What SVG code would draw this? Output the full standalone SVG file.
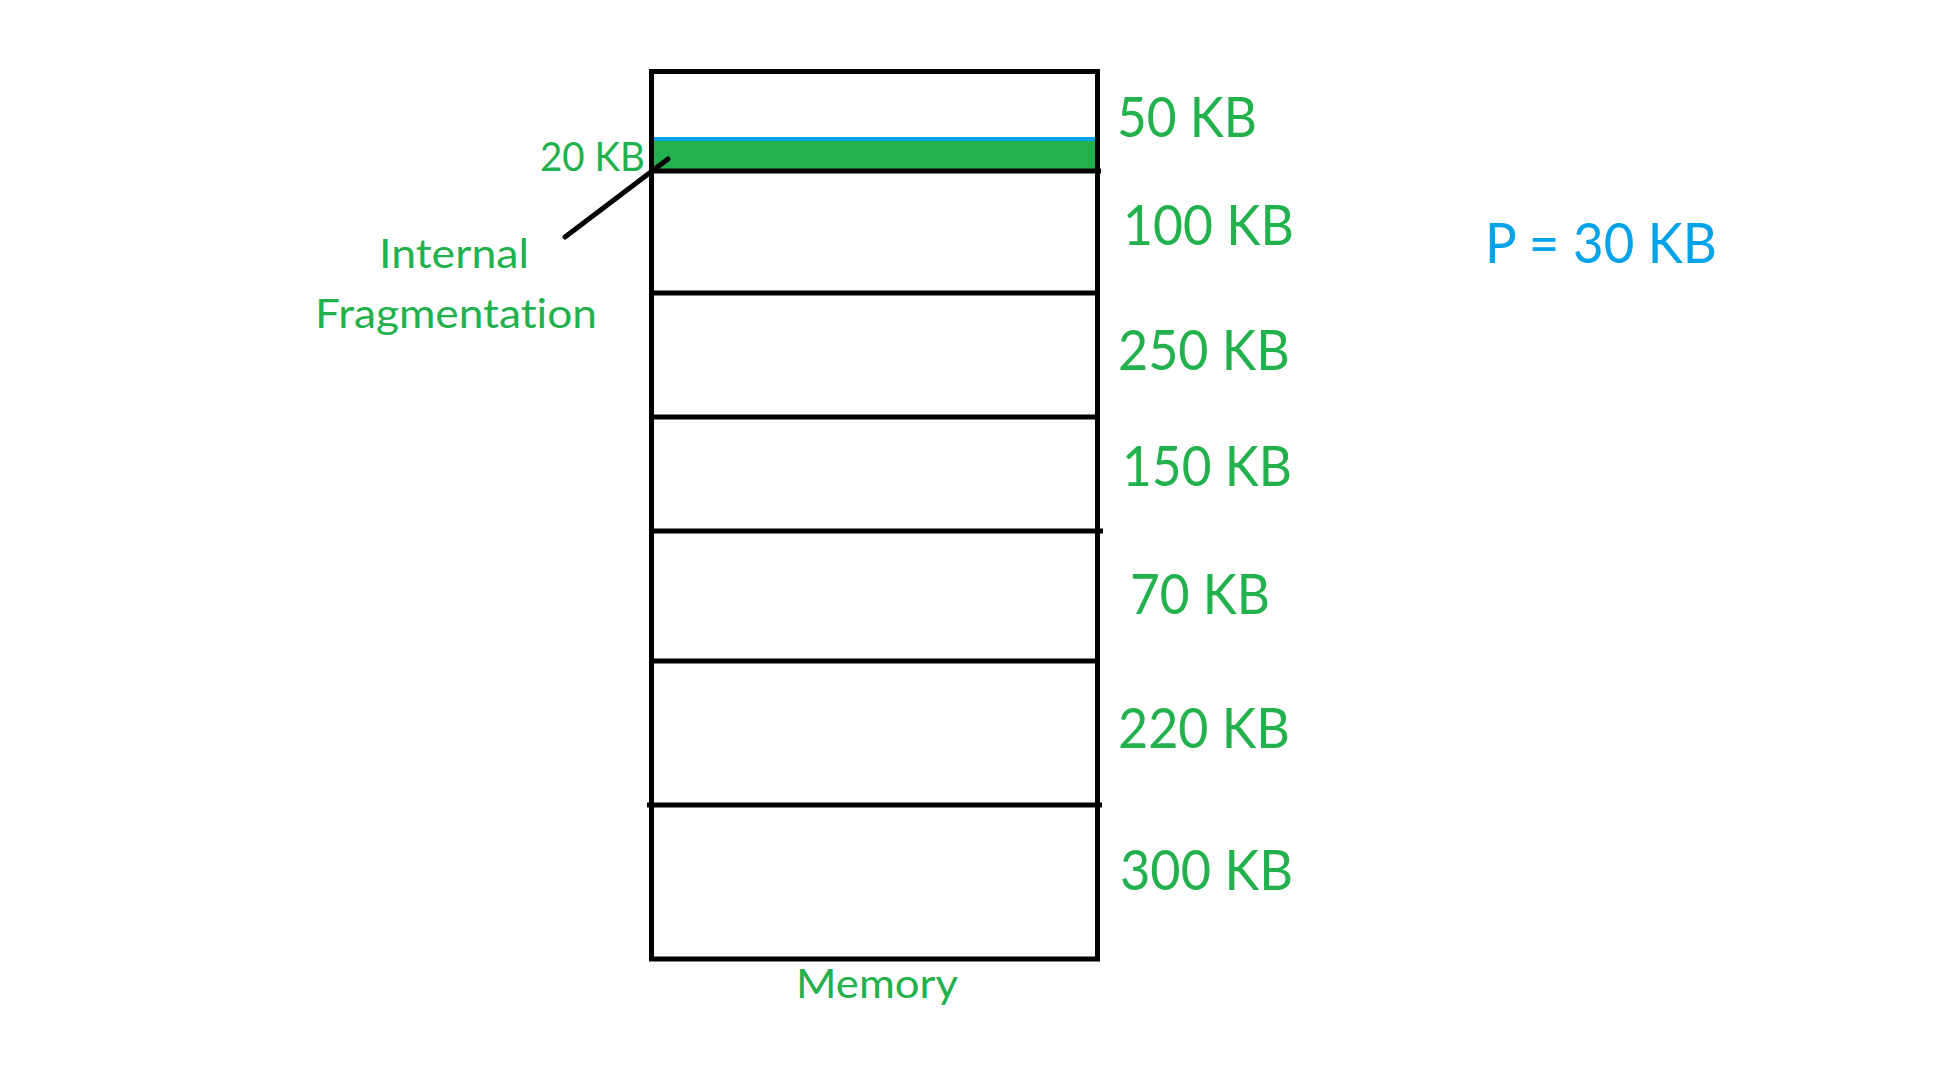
<svg xmlns="http://www.w3.org/2000/svg" width="1952" height="1070" viewBox="0 0 1952 1070">
<style>
.g{fill:#22B14C;font-family:Lato,"Open Sans",sans-serif;font-variant-ligatures:none}
.b{fill:#00A2E8;font-family:Lato,"Open Sans",sans-serif;font-variant-ligatures:none}
.big{font-size:57px}
.sm{font-size:41px}
.ln{stroke:#000;stroke-width:5;fill:none}
</style>
<rect width="1952" height="1070" fill="#fff"/>
<g id="memory">
<rect x="654" y="141" width="441" height="28" fill="#22B14C"/>
<line x1="651" y1="139" x2="1097" y2="139" stroke="#00A2E8" stroke-width="4"/>
<rect class="ln" x="651.5" y="71.5" width="446" height="887.5"/>
<line class="ln" x1="651" y1="171" x2="1101" y2="171"/>
<line class="ln" x1="651" y1="293" x2="1097" y2="293"/>
<line class="ln" x1="651" y1="417" x2="1097" y2="417"/>
<line class="ln" x1="651" y1="531" x2="1103" y2="531"/>
<line class="ln" x1="651" y1="661" x2="1097" y2="661"/>
<line class="ln" x1="647" y1="805" x2="1102" y2="805"/>
<text class="g sm" x="796" y="998" textLength="162" lengthAdjust="spacingAndGlyphs">Memory</text>
</g>
<g id="labels">
<text class="g big" x="1117" y="137" textLength="140" lengthAdjust="spacingAndGlyphs">50 KB</text>
<text class="g big" x="1123" y="245" textLength="171" lengthAdjust="spacingAndGlyphs">100 KB</text>
<text class="g big" x="1118" y="370" textLength="172" lengthAdjust="spacingAndGlyphs">250 KB</text>
<text class="g big" x="1122" y="486" textLength="170" lengthAdjust="spacingAndGlyphs">150 KB</text>
<text class="g big" x="1130" y="614" textLength="140" lengthAdjust="spacingAndGlyphs">70 KB</text>
<text class="g big" x="1118" y="748" textLength="172" lengthAdjust="spacingAndGlyphs">220 KB</text>
<text class="g big" x="1120" y="890" textLength="173" lengthAdjust="spacingAndGlyphs">300 KB</text>
<text class="b big" x="1485" y="263" textLength="232" lengthAdjust="spacingAndGlyphs">P = 30 KB</text>
</g>
<g id="fragmentation">
<text class="g sm" x="540" y="171" textLength="105" lengthAdjust="spacingAndGlyphs">20 KB</text>
<text class="g sm" x="379" y="268" textLength="150" lengthAdjust="spacingAndGlyphs">Internal</text>
<text class="g sm" x="315" y="328" textLength="282" lengthAdjust="spacingAndGlyphs">Fragmentation</text>
</g>
<g id="connectors">
<line x1="565" y1="237" x2="668" y2="159" stroke="#000" stroke-width="5" stroke-linecap="round"/>
</g>
</svg>
